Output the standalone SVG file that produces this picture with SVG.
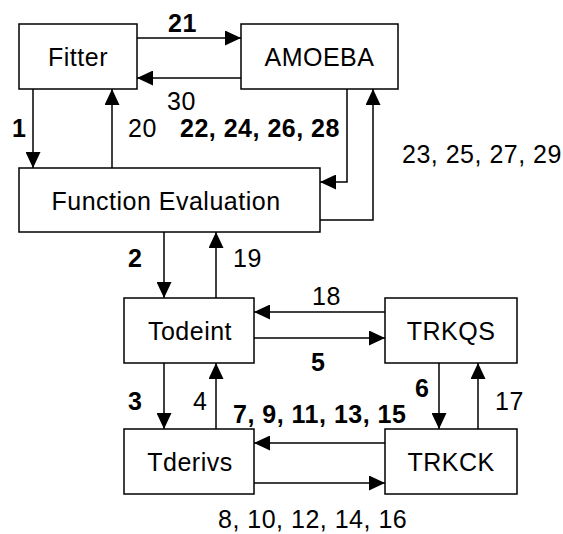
<svg xmlns="http://www.w3.org/2000/svg" width="563" height="534" viewBox="0 0 563 534">
<style>
.box{fill:#fff;stroke:#000;stroke-width:1.5}
.t{font-family:"Liberation Sans",Arial,sans-serif;font-size:25px;letter-spacing:0.5px;fill:#000}
.c{text-anchor:middle}
.b{font-weight:bold}
.ln{fill:none;stroke:#000;stroke-width:1.5}
</style>
<defs>
<marker id="ah" markerUnits="userSpaceOnUse" markerWidth="16" markerHeight="15" refX="16" refY="7.5" orient="auto" viewBox="0 0 16 15">
<path d="M0,0 L16,7.5 L0,15 z" fill="#000"/>
</marker>
</defs>
<rect width="563" height="534" fill="#fff"/>
<g id="connectors">
<path class="ln" d="M137,38 H241" marker-end="url(#ah)"/>
<path class="ln" d="M241,78 H137" marker-end="url(#ah)"/>
<path class="ln" d="M33,89 V168" marker-end="url(#ah)"/>
<path class="ln" d="M112,168 V89" marker-end="url(#ah)"/>
<path class="ln" d="M347,89 V182 H320" marker-end="url(#ah)"/>
<path class="ln" d="M320,220 H373 V89" marker-end="url(#ah)"/>
<path class="ln" d="M164,232 V298" marker-end="url(#ah)"/>
<path class="ln" d="M216,298 V232" marker-end="url(#ah)"/>
<path class="ln" d="M385,312 H254" marker-end="url(#ah)"/>
<path class="ln" d="M254,338 H385" marker-end="url(#ah)"/>
<path class="ln" d="M164,363 V429" marker-end="url(#ah)"/>
<path class="ln" d="M216,429 V363" marker-end="url(#ah)"/>
<path class="ln" d="M385,443 H254" marker-end="url(#ah)"/>
<path class="ln" d="M254,483 H385" marker-end="url(#ah)"/>
<path class="ln" d="M439,363 V429" marker-end="url(#ah)"/>
<path class="ln" d="M478,429 V363" marker-end="url(#ah)"/>
</g>
<g id="labels">
<text class="t b" x="168" y="32">21</text>
<text class="t" x="167" y="110">30</text>
<text class="t b" x="12" y="137">1</text>
<text class="t" x="128" y="137">20</text>
<text class="t b" x="180" y="137">22, 24, 26, 28</text>
<text class="t" x="402" y="163">23, 25, 27, 29</text>
<text class="t b" x="128" y="267">2</text>
<text class="t" x="233" y="267">19</text>
<text class="t" x="312" y="305">18</text>
<text class="t b" x="311" y="371">5</text>
<text class="t b" x="128" y="410">3</text>
<text class="t" x="193" y="410">4</text>
<text class="t b" x="415" y="397">6</text>
<text class="t" x="495" y="410">17</text>
<text class="t b" x="233" y="423">7, 9, 11, 13, 15</text>
<text class="t" x="218" y="528">8, 10, 12, 14, 16</text>
</g>
<g id="fitter"><rect class="box" x="19" y="24" width="118" height="65"/><text class="t c" x="78" y="66">Fitter</text></g>
<g id="amoeba"><rect class="box" x="241" y="24" width="157" height="65"/><text class="t c" x="319.5" y="66">AMOEBA</text></g>
<g id="function-evaluation"><rect class="box" x="19" y="168" width="301" height="64"/><text class="t c" x="166" y="210">Function Evaluation</text></g>
<g id="todeint"><rect class="box" x="124" y="298" width="130" height="65"/><text class="t c" x="190" y="340">Todeint</text></g>
<g id="trkqs"><rect class="box" x="385" y="298" width="132" height="65"/><text class="t c" x="451" y="340">TRKQS</text></g>
<g id="tderivs"><rect class="box" x="124" y="429" width="130" height="65"/><text class="t c" x="190" y="471">Tderivs</text></g>
<g id="trkck"><rect class="box" x="385" y="429" width="132" height="65"/><text class="t c" x="451" y="471">TRKCK</text></g>
</svg>
